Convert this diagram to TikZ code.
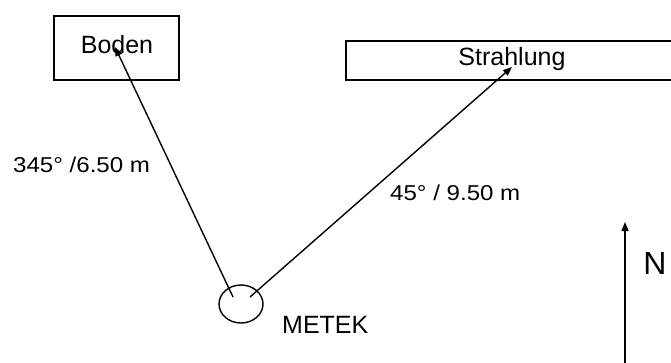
\documentclass[tikz,border=0pt]{standalone}
\usepackage{fontspec}
\setmainfont{Liberation Sans}
\newfontfamily\widefont[FakeStretch=1.12]{Liberation Sans}
\usetikzlibrary{arrows.meta,shapes.geometric}
\begin{document}
\begin{tikzpicture}[x=1pt,y=-1pt,
  box/.style={draw, line width=1.5pt, inner sep=0pt},
  conn/.style={line width=1.4pt, -{Triangle[length=9pt,width=7pt]}},
  big/.style={font=\fontsize{25}{28}\selectfont, inner sep=0pt},
  lbl/.style={font=\widefont\fontsize{21.5}{24}\selectfont, inner sep=0pt}]
\useasboundingbox (0,0) rectangle (671,362);
\clip (0,0) rectangle (671,362);
% boxes
\node[box, minimum width=125pt, minimum height=64pt, anchor=north west] (bodenbox) at (53,15) {};
\node[big] (boden) at (117,45) {Boden};
\node[box, minimum width=370pt, minimum height=39pt, anchor=north west] (strbox) at (345,40) {};
\node[big] (strahlung) at (512,59) {Strahlung};
% instrument
\node[draw, ellipse, line width=1.4pt, minimum width=44pt, minimum height=38pt, inner sep=0pt] (metek) at (241,304) {};
\node[big, anchor=west] (meteklbl) at (282,325) {METEK};
% connectors
\coordinate (m1) at (233,297);
\coordinate (m2) at (250,297);
\coordinate (btip) at (115,47);
\coordinate (stip) at (512,67);
\draw[conn] (m1) -- (btip);
\draw[conn] (m2) -- (stip);
% labels
\node[lbl, anchor=west] (l1) at (13,165) {345° /6.50 m};
\node[lbl, anchor=west] (l2) at (390,193) {45° / 9.50 m};
% north arrow
\coordinate (nbase) at (625,370);
\coordinate (ntip) at (625,222);
\draw[conn] (nbase) -- (ntip);
\node[font=\fontsize{32}{34}\selectfont, inner sep=0pt] (n) at (655,263) {N};
\end{tikzpicture}
\end{document}
